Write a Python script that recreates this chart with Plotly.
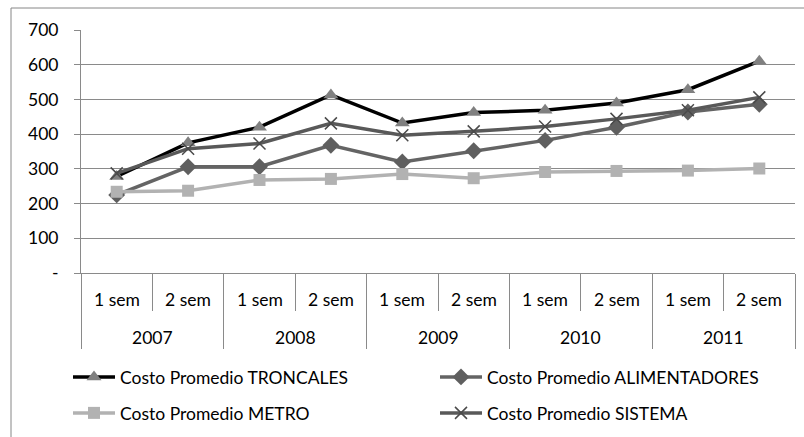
import plotly.graph_objects as go

# Semesters grouped by year
years = ["2007", "2008", "2009", "2010", "2011"]
semesters = ["1 sem", "2 sem"]

troncales = [278, 375, 420, 513, 432, 462, 469, 490, 528, 610]
alimentadores = [225, 306, 306, 368, 320, 352, 382, 420, 464, 486]
metro = [234, 237, 268, 271, 285, 273, 291, 294, 295, 301]
sistema = [287, 358, 373, 431, 397, 408, 422, 444, 469, 506]

y_ticks = [0, 100, 200, 300, 400, 500, 600, 700]
y_tick_text = ["-", "100", "200", "300", "400", "500", "600", "700"]

FONT = "Lato"
FSIZE = 17.5
AXIS_GRAY = "#8a8a8a"

# Plot-area geometry in pixels
W, H = 804, 437
L, R, T, B = 81, 9, 30, 164
PW, PH = W - L - R, H - T - B


def px_x(px):
    return (px - L) / PW


def px_y(py):
    return (H - B - py) / PH


n = len(years) * len(semesters)
idx = list(range(n))

fig = go.Figure()

# (name, values, line colour, line width, marker, legend row)
series = [
    ("Costo Promedio TRONCALES", troncales, "#000000", 3.5,
     dict(symbol="triangle-up", size=13, color="#808080"), "legend"),
    ("Costo Promedio ALIMENTADORES", alimentadores, "#646464", 3.5,
     dict(symbol="diamond", size=13, color="#5f5f5f"), "legend"),
    ("Costo Promedio METRO", metro, "#b2b2b2", 3.5,
     dict(symbol="square", size=12, color="#b2b2b2"), "legend2"),
    ("Costo Promedio SISTEMA", sistema, "#595959", 3.5,
     dict(symbol="x-thin", size=12, color="#4a4a4a",
          line=dict(width=1.5, color="#4a4a4a")), "legend2"),
]

for name, vals, color, width, marker, leg in series:
    fig.add_trace(go.Scatter(
        x=idx, y=vals, name=name, mode="lines+markers",
        line=dict(color=color, width=width),
        marker=marker, legend=leg,
    ))

# Category axis: long ticks between years, short ticks between semesters
year_bounds = [i * 2 - 0.5 for i in range(len(years) + 1)]
sem_bounds = [i * 2 + 0.5 for i in range(len(years))]

fig.update_xaxes(
    range=[-0.5, n - 0.5],
    showgrid=False, zeroline=False,
    showline=True, linecolor=AXIS_GRAY, linewidth=1,
    tickmode="array", tickvals=year_bounds, ticktext=[""] * len(year_bounds),
    ticks="outside", ticklen=75, tickcolor=AXIS_GRAY, tickwidth=1,
    minor=dict(tickmode="array", tickvals=sem_bounds, ticks="outside",
               ticklen=37, tickcolor=AXIS_GRAY, tickwidth=1, showgrid=False),
)

fig.update_yaxes(
    range=[0, 700],
    tickmode="array", tickvals=y_ticks, ticktext=y_tick_text,
    showgrid=True, gridcolor=AXIS_GRAY, gridwidth=1,
    zeroline=False,
    showline=True, linecolor=AXIS_GRAY, linewidth=1,
    ticks="outside", ticklen=6, tickcolor=AXIS_GRAY,
    ticklabelstandoff=12,
    tickfont=dict(family=FONT, size=FSIZE, color="#000000"),
)

# Semester and year labels under the axis
for i in idx:
    fig.add_annotation(
        x=i, y=px_y(299), xref="x", yref="paper",
        text=semesters[i % 2], showarrow=False,
        font=dict(family=FONT, size=FSIZE, color="#000000"),
        yanchor="middle", xanchor="center",
    )
for j, yr in enumerate(years):
    fig.add_annotation(
        x=2 * j + 0.5, y=px_y(337), xref="x", yref="paper",
        text=yr, showarrow=False,
        font=dict(family=FONT, size=FSIZE, color="#000000"),
        yanchor="middle", xanchor="center",
    )

# Outer chart frame
fig.add_shape(
    type="rect", xref="paper", yref="paper",
    x0=px_x(11), x1=px_x(812),
    y0=px_y(445), y1=px_y(8),
    line=dict(color="#868686", width=1), fillcolor="rgba(0,0,0,0)",
    layer="below",
)

legend_style = dict(
    orientation="h",
    x=px_x(68), xanchor="left",
    yanchor="middle",
    entrywidth=310, entrywidthmode="pixels",
    itemwidth=42,
    font=dict(family=FONT, size=FSIZE, color="#000000"),
    bgcolor="rgba(0,0,0,0)",
)

fig.update_layout(
    width=W, height=H,
    margin=dict(l=L, r=R, t=T, b=B, autoexpand=False),
    paper_bgcolor="white", plot_bgcolor="white",
    font=dict(family=FONT, size=FSIZE, color="#000000"),
    showlegend=True,
    legend=dict(legend_style, y=px_y(377)),
    legend2=dict(legend_style, y=px_y(413)),
)

fig.write_html("out.html")
